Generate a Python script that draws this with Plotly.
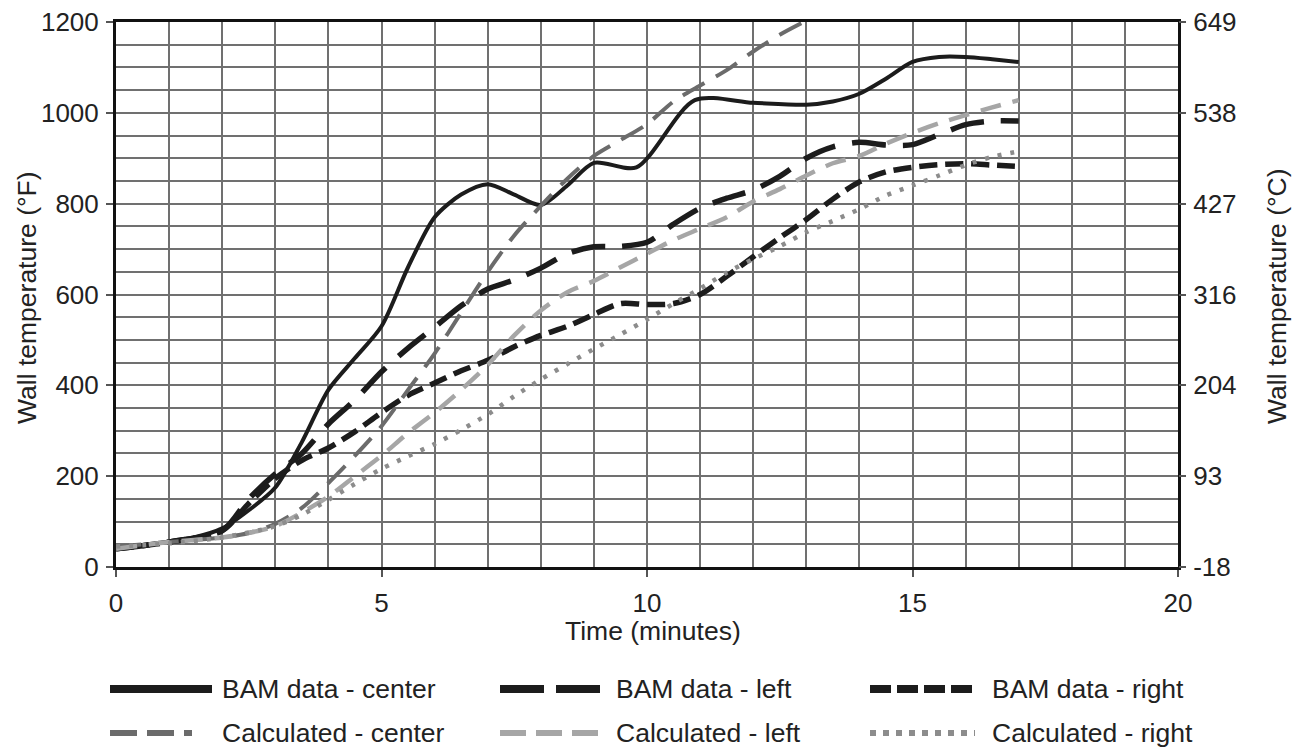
import plotly.graph_objects as go

# ---- data ----
bam_center_t = [0, 0.5, 1, 1.5, 2, 2.5, 3, 3.5, 4, 4.5, 5, 5.5, 6, 6.5, 7, 7.5, 8, 8.5, 9, 9.8, 10.9, 12, 13, 13.5, 14, 14.5, 15, 15.5, 16, 16.5, 17]
bam_center_v = [40, 47, 56, 66, 85, 125, 175, 275, 390, 460, 530, 660, 770, 820, 843, 820, 797, 840, 890, 880, 1028, 1022, 1018, 1025, 1042, 1075, 1112, 1123, 1123, 1118, 1112]

bam_left_t = [0, 1, 2, 2.5, 3, 3.5, 4, 4.5, 5, 5.5, 6, 6.5, 7, 7.5, 8, 8.5, 9, 9.5, 10, 10.5, 11, 11.5, 12, 12.5, 13, 13.5, 14, 14.5, 15, 15.5, 16, 16.5, 17]
bam_left_v = [40, 55, 80, 150, 205, 250, 315, 368, 430, 482, 528, 575, 612, 632, 658, 690, 705, 706, 715, 755, 790, 812, 830, 860, 900, 925, 935, 929, 930, 952, 974, 982, 982]

bam_right_t = [0, 1, 2, 2.5, 3, 3.5, 4, 4.5, 5, 5.5, 6, 6.5, 7, 7.5, 8, 8.5, 9, 9.5, 10, 10.5, 11, 11.5, 12, 12.5, 13, 13.5, 14, 14.5, 15, 15.5, 16, 16.5, 17]
bam_right_v = [40, 55, 80, 140, 195, 235, 262, 298, 340, 378, 405, 432, 455, 485, 510, 530, 556, 580, 578, 580, 600, 640, 683, 725, 765, 810, 848, 870, 880, 886, 888, 885, 882]

calc_center_t = [0, 1, 2, 2.5, 3, 3.5, 4, 4.5, 5, 5.5, 6, 6.5, 7, 7.5, 8, 8.5, 9, 9.5, 10, 10.5, 11, 11.5, 12, 12.5, 12.95]
calc_center_v = [45, 55, 65, 75, 95, 130, 185, 245, 310, 390, 470, 560, 650, 730, 795, 855, 905, 940, 975, 1025, 1060, 1094, 1135, 1172, 1200]

calc_left_t = [0, 1, 2, 2.5, 3, 3.5, 4, 4.5, 5, 5.5, 6, 6.5, 7, 7.5, 8, 8.5, 9, 9.5, 10, 10.5, 11, 11.5, 12, 12.5, 13, 13.5, 14, 14.5, 15, 15.5, 16, 16.5, 17]
calc_left_v = [40, 55, 65, 75, 90, 120, 155, 200, 245, 295, 340, 390, 445, 510, 565, 605, 630, 660, 690, 720, 745, 770, 805, 832, 862, 889, 905, 932, 956, 977, 995, 1012, 1028]

calc_right_t = [0, 1, 2, 3, 3.5, 4, 4.5, 5, 5.5, 6, 6.5, 7, 7.5, 8, 8.5, 9, 9.5, 10, 10.5, 11, 11.5, 12, 12.5, 13, 13.5, 14, 14.5, 15, 15.5, 16, 16.5, 17]
calc_right_v = [45, 52, 65, 90, 115, 148, 183, 216, 244, 271, 302, 336, 376, 413, 447, 480, 512, 545, 580, 613, 648, 678, 706, 737, 762, 788, 818, 840, 862, 885, 903, 915]

f_ticks = [0, 200, 400, 600, 800, 1000, 1200]
c_labels = ["-18", "93", "204", "316", "427", "538", "649"]
x_ticks = [0, 5, 10, 15, 20]

# name, t, v, colour, plot width, plot dash, legend width, legend dash
series = [
    ("BAM data - center", bam_center_t, bam_center_v, "#1c1c1c", 4, "solid", 8, "solid"),
    ("BAM data - left", bam_left_t, bam_left_v, "#1c1c1c", 5.5, "34px,17px", 8, "44px,12px"),
    ("BAM data - right", bam_right_t, bam_right_v, "#1c1c1c", 5.5, "18px,8px", 8, "21px,6px"),
    ("Calculated - center", calc_center_t, calc_center_v, "#6b6b6b", 4, "25px,13px", 6, "27px,10px,27px,10px,8px,40px"),
    ("Calculated - left", calc_left_t, calc_left_v, "#a6a6a6", 4.5, "21px,12px", 6, "26px,10px"),
    ("Calculated - right", calc_right_t, calc_right_v, "#8c8c8c", 4.5, "4px,9px", 6, "6px,7px"),
]

FONT = "Liberation Sans, Arial, sans-serif"
TXT = "#222222"
W, H = 1301, 747
L, R, T, B = 116, 123, 22, 180

fig = go.Figure()
for name, t, v, col, w, dash, lw, ldash in series:
    fig.add_trace(go.Scatter(x=t, y=v, mode="lines", name=name, showlegend=False,
                             line=dict(color=col, width=w, dash=dash, shape="spline", smoothing=0.8)))

# carrier for the right-hand (°C) axis, invisible
fig.add_trace(go.Scatter(x=bam_center_t, y=bam_center_v, yaxis="y2", mode="lines",
                         line=dict(width=0, color="rgba(0,0,0,0)"), showlegend=False, hoverinfo="skip"))


def px(x):
    return (x - L) / (W - L - R)


def py(y):
    return (H - B - y) / (H - T - B)


# legend drawn below the plot
legend_cols = [(110, 212, 220), (500, 602, 614), (870, 975, 990)]
legend_rows = [689, 733]
for i, (name, t, v, col, w, dash, lw, ldash) in enumerate(series):
    r, c = divmod(i, 3)
    x0, x1, xt = legend_cols[c]
    yy = legend_rows[r]
    fig.add_shape(type="line", xref="paper", yref="paper",
                  x0=px(x0), x1=px(x1), y0=py(yy), y1=py(yy),
                  line=dict(color=col, width=lw, dash=ldash))
    fig.add_annotation(xref="paper", yref="paper", x=px(xt), y=py(yy), text=name,
                       showarrow=False, xanchor="left", yanchor="middle",
                       font=dict(family=FONT, size=26.5, color=TXT))

# axis titles
fig.add_annotation(xref="paper", yref="paper", x=px(653), y=py(631), text="Time (minutes)",
                   showarrow=False, xanchor="center", yanchor="middle",
                   font=dict(family=FONT, size=26.5, color=TXT))
fig.add_annotation(xref="paper", yref="paper", x=px(27), y=py(298), text="Wall temperature (°F)",
                   showarrow=False, xanchor="center", yanchor="middle", textangle=-90,
                   font=dict(family=FONT, size=26.5, color=TXT))
fig.add_annotation(xref="paper", yref="paper", x=px(1277), y=py(296), text="Wall temperature (°C)",
                   showarrow=False, xanchor="center", yanchor="middle", textangle=-90,
                   font=dict(family=FONT, size=26.5, color=TXT))

axis_common = dict(showline=True, linecolor="#111", linewidth=3, mirror=True, automargin=False,
                   ticks="outside", ticklen=7, tickcolor="#555", tickwidth=1.5,
                   tickfont=dict(family=FONT, size=26, color=TXT),
                   gridcolor="#707070", gridwidth=1.6, zeroline=False)

fig.update_layout(
    width=W, height=H,
    margin=dict(l=L, r=R, t=T, b=B, autoexpand=False),
    plot_bgcolor="white", paper_bgcolor="white",
    xaxis=dict(range=[0, 20], tickvals=x_ticks, showgrid=True, ticklabelstandoff=4,
               minor=dict(dtick=1, showgrid=True, gridcolor="#707070", gridwidth=1.6, ticks=""),
               **axis_common),
    yaxis=dict(range=[0, 1200], tickvals=f_ticks, showgrid=True, ticklabelstandoff=2,
               minor=dict(dtick=50, showgrid=True, gridcolor="#707070", gridwidth=1.6, ticks=""),
               **axis_common),
    yaxis2=dict(range=[0, 1200], overlaying="y", side="right", tickvals=f_ticks, ticktext=c_labels,
                showgrid=False, ticks="outside", ticklen=7, tickcolor="#555", tickwidth=1.5,
                ticklabelstandoff=2, automargin=False,
                tickfont=dict(family=FONT, size=26, color=TXT), showline=False, zeroline=False),
)

fig.write_html("out.html", config={"displayModeBar": False},
               post_script="document.body.style.margin='0';document.body.style.overflow='hidden';")
